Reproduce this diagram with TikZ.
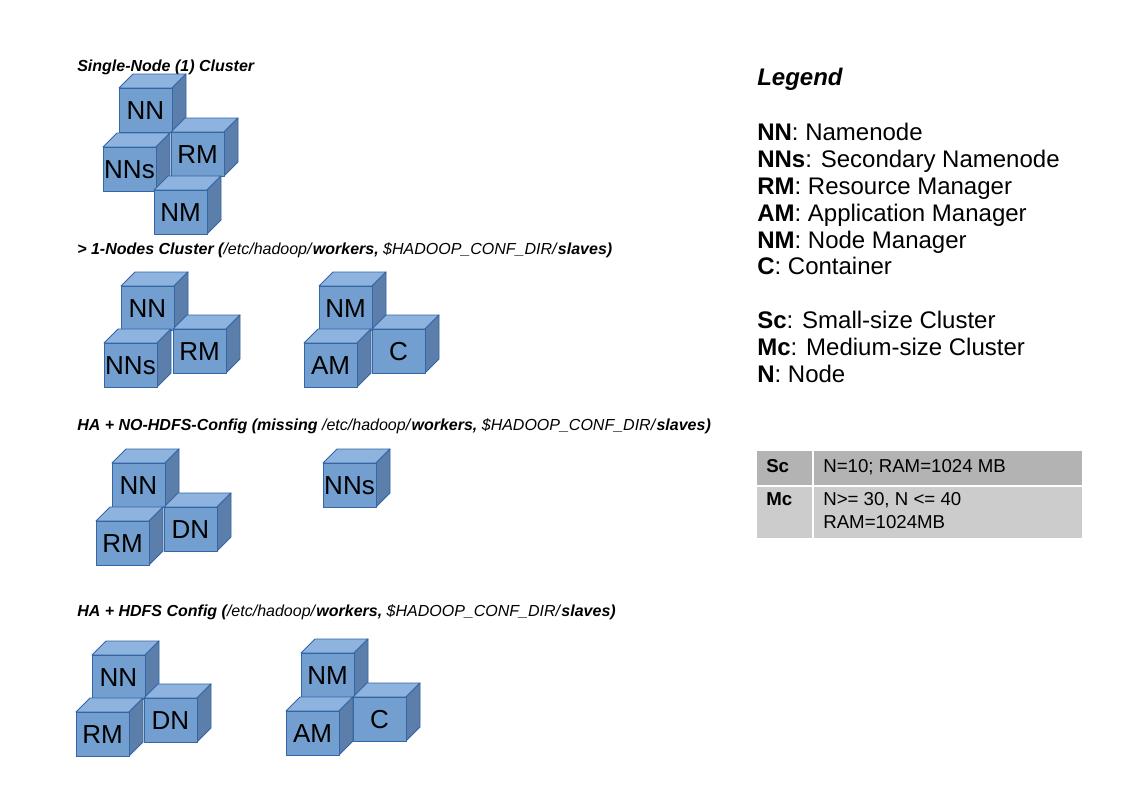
\documentclass[tikz,border=0pt]{standalone}
\usepackage{fontspec}
\setmainfont{Liberation Sans}
\definecolor{cubefrontc}{HTML}{729FCF}
\definecolor{cubetopc}{HTML}{8EB3DF}
\definecolor{cubesidec}{HTML}{5B7FAA}
\definecolor{cubelinec}{HTML}{3465A4}
\definecolor{rowAc}{HTML}{B3B3B3}
\definecolor{rowBc}{HTML}{CCCCCC}
\newcommand\hdrbi[1]{{\bfseries\itshape #1}}
\begin{document}
\begin{tikzpicture}[x=0.75pt,y=-0.75pt,
  cubeface/.style={draw=cubelinec, line width=0.7pt, line join=round},
  cubelabel/.style={inner sep=0pt, font=\fontsize{19.5}{22}\selectfont},
  header/.style={anchor=base west, inner sep=0pt, font=\fontsize{12}{14}\selectfont},
  legendtitle/.style={anchor=base west, inner sep=0pt, font=\fontsize{18}{20}\selectfont\bfseries\itshape},
  legenditem/.style={anchor=base west, inner sep=0pt, font=\fontsize{18}{20}\selectfont},
  cellA/.style={fill=rowAc, draw=none},
  cellB/.style={fill=rowBc, draw=none},
  celltext/.style={anchor=base west, inner sep=0pt, font=\fontsize{14}{16}\selectfont},
  pics/cube/.style={code={
    \filldraw[cubeface, fill=cubetopc] (0,0) -- (14,-14) -- (67,-14) -- (53,0) -- cycle;
    \filldraw[cubeface, fill=cubesidec] (53,0) -- (67,-14) -- (67,30) -- (53,44) -- cycle;
    \filldraw[cubeface, fill=cubefrontc] (0,0) rectangle (53,44);
    \node[cubelabel] (-l) at (26.5,23) {#1};
  }}
]
\path[use as bounding box, fill=white] (0,0) rectangle (1123,794);

% ---- Section 1
\node[header] (h1) at (77,71) {\hdrbi{Single-Node (1) Cluster}};
\pic (anN) at (119,88) {cube=NN};
\pic (aRM) at (171,132) {cube=RM};
\pic (aNNs) at (103,147) {cube=NNs};
\pic (aNM) at (154,190) {cube=NM};

% ---- Section 2
\node[header] (h2) at (77,254) {\hdrbi{> 1-Nodes Cluster (}\textit{/etc/hadoop/}\hdrbi{workers,} \textit{\$HADOOP\_CONF\_DIR/}\hdrbi{slaves)}};
\pic (bNN) at (121,286) {cube=NN};
\pic (bRM) at (173,329) {cube=RM};
\pic (bNNs) at (104,343) {cube=NNs};
\pic (bNM) at (319,286) {cube=NM};
\pic (bC) at (372,329) {cube=C};
\pic (bAM) at (304,343) {cube=AM};

% ---- Section 3
\node[header] (h3) at (77,430) {\hdrbi{HA + NO-HDFS-Config (missing }\textit{/etc/hadoop/}\hdrbi{workers,} \textit{\$HADOOP\_CONF\_DIR/}\hdrbi{slaves)}};
\pic (cNN) at (112,463) {cube=NN};
\pic (cDN) at (164,507) {cube=DN};
\pic (cRM) at (96,521) {cube=RM};
\pic (cNNs) at (323,463) {cube=NNs};

% ---- Section 4
\node[header] (h4) at (77,616) {\hdrbi{HA + HDFS Config (}\textit{/etc/hadoop/}\hdrbi{workers,} \textit{\$HADOOP\_CONF\_DIR/}\hdrbi{slaves)}};
\pic (dNN) at (92,655) {cube=NN};
\pic (dDN) at (144,698) {cube=DN};
\pic (dRM) at (76,712) {cube=RM};
\pic (dNM) at (301,653) {cube=NM};
\pic (dC) at (353,697) {cube=C};
\pic (dAM) at (286,711) {cube=AM};

% ---- Legend
\node[legendtitle] (lt) at (757,85) {Legend};
\node[legenditem] (l1) at (757,140) {\textbf{NN}: Namenode};
\node[legenditem] (l2) at (757,167) {\textbf{NNs}: Secondary Namenode};
\node[legenditem] (l3) at (757,194) {\textbf{RM}: Resource Manager};
\node[legenditem] (l4) at (757,221) {\textbf{AM}: Application Manager};
\node[legenditem] (l5) at (757,248) {\textbf{NM}: Node Manager};
\node[legenditem] (l6) at (757,274) {\textbf{C}: Container};
\node[legenditem] (l7) at (757,328) {\textbf{Sc}: Small-size Cluster};
\node[legenditem] (l8) at (757,355) {\textbf{Mc}: Medium-size Cluster};
\node[legenditem] (l9) at (757,382) {\textbf{N}: Node};

% ---- Table
\fill[cellA] (757,451) rectangle (812,485);
\fill[cellA] (814,451) rectangle (1082,485);
\fill[cellB] (757,487) rectangle (812,538);
\fill[cellB] (814,487) rectangle (1082,538);
\node[celltext] (t1) at (766,472) {\textbf{Sc}};
\node[celltext] (t2) at (823,472) {N=10; RAM=1024 MB};
\node[celltext] (t3) at (766,505) {\textbf{Mc}};
\node[celltext] (t4) at (823,505) {N>= 30, N <= 40};
\node[celltext] (t5) at (823,528) {RAM=1024MB};
\end{tikzpicture}
\end{document}
